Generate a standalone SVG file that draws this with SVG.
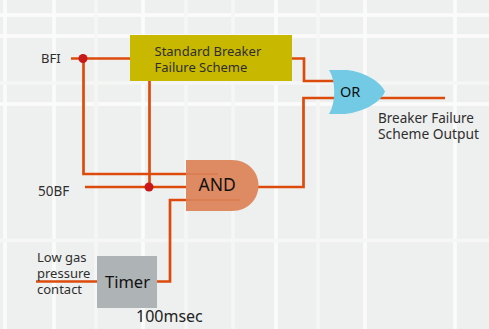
<svg xmlns="http://www.w3.org/2000/svg" width="489" height="329" viewBox="0 0 489 329">
<style>
.g{stroke:#fbfbfb;stroke-width:3.500;fill:none}
.f{stroke:#f5f6f5;stroke-width:3.500;fill:none}
.w{stroke:#dd4b0c;stroke-width:2.700;fill:none}
.t{font-family:"Noto Sans",sans-serif;font-size:13px;fill:#2e2e2e}
.d{fill:#c8181a}
.k{font-family:"Noto Sans",sans-serif;fill:#111}
</style>
<rect width="489" height="329" fill="#eef0ef"/>
<g id="grid">
<path class="g" d="M0 15H489M0 36H489M0 104H489M5 0V329M54 0V329M143 0V329M276 0V329M365 0V329M455 0V329"/>
<path class="f" d="M0 83H489M0 240.500H489M96 0V329M186 0V329M233 0V329M318 0V329"/>
</g>
<g id="connectors">
<path class="w" d="M71 58.500H131"/>
<path class="w" d="M83.500 58.500V174H187"/>
<path class="w" d="M149.500 80V187"/>
<path class="w" d="M85 187H187"/>
<path class="w" d="M36 281.500H98"/>
<path class="w" d="M157 281.500H170V200H187"/>
<path class="w" d="M291 58.500H304V81H335"/>
<path class="w" d="M255 187H303.500V98H335"/>
<path class="w" d="M380 98H445"/>
</g>
<g id="dots">
<circle class="d" cx="83" cy="58.500" r="4.500"/>
<circle class="d" cx="149" cy="187" r="4.500"/>
</g>
<g id="scheme">
<rect x="130" y="35" width="162" height="46" fill="#c8b800"/>
<text class="t" x="154.500" y="55.500">Standard Breaker</text>
<text class="t" x="154.500" y="71.500">Failure Scheme</text>
</g>
<g id="and">
<path d="M186 160H232C248 160 258.500 172 258.500 185.500C258.500 199 248 211 232 211H186Z" fill="#de8a62"/>
<path d="M186 174H218M186 200H240" stroke="#dc7e53" stroke-width="2" fill="none"/>
<text class="k" x="198.500" y="191" font-size="17.500">AND</text>
</g>
<g id="or">
<path d="M329 70H347C365 72 381 82 385 91.500C381 102 364 112 345 114H329C336 103 336 81 329 70Z" fill="#72cae4"/>
<text class="k" x="340" y="97" font-size="14.500">OR</text>
</g>
<g id="timer">
<rect x="97" y="256" width="60" height="52" fill="#aeb3b5"/>
<text class="k" x="105" y="288" font-size="16.500">Timer</text>
</g>
<g id="labels">
<text class="t" x="41" y="62.500">BFI</text>
<text class="t" x="38" y="196" font-size="13.500" style="font-size:13.500px">50BF</text>
<text class="t" x="37" y="262">Low gas</text>
<text class="t" x="37" y="278">pressure</text>
<text class="t" x="37" y="294">contact</text>
<text x="136" y="322" font-family="Noto Sans,sans-serif" font-size="16" fill="#222">100msec</text>
<text class="t" x="378" y="123" style="font-size:13.500px">Breaker Failure</text>
<text class="t" x="378" y="139" style="font-size:13.800px">Scheme Output</text>
</g>
</svg>
